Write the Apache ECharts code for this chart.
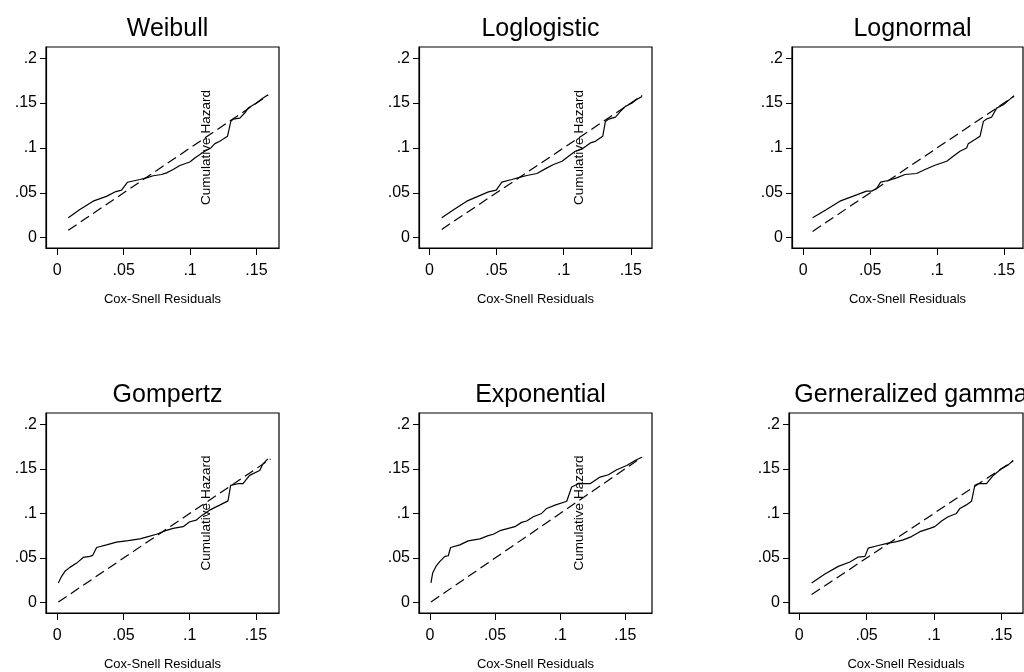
<!DOCTYPE html>
<html>
<head>
<meta charset="utf-8">
<script src="https://cdn.jsdelivr.net/npm/echarts@6/dist/echarts.min.js"></script>
<style>
  html, body { margin: 0; padding: 0; background: #fff; }
  #chart { width: 1024px; height: 672px; }
</style>
</head>
<body>
<div id="chart"></div>
<script>
// Cox-Snell residual diagnostics: Nelson-Aalen cumulative hazard of the
// residuals (solid) against the 45-degree reference line (dashed).

const panelTitles = ['Weibull', 'Loglogistic', 'Lognormal', 'Gompertz', 'Exponential', 'Gerneralized gamma'];
const xAxisTitle = 'Cox-Snell Residuals';
const yAxisTitle = 'Cumulative Hazard';
const xTickValues = [0, 0.05, 0.1, 0.15];
const xTickLabels = ['0', '.05', '.1', '.15'];
const yTickValues = [0, 0.05, 0.1, 0.15, 0.2];
const yTickLabels = ['0', '.05', '.1', '.15', '.2'];

// Weibull
const weibullResid  = [0.0083, 0.017, 0.027, 0.037, 0.0434, 0.0484, 0.0529, 0.0622, 0.0672, 0.0723, 0.0785, 0.0823, 0.0873, 0.0923, 0.0998, 0.1036, 0.1074, 0.111, 0.1157, 0.1187, 0.1224, 0.1282, 0.1307, 0.1325, 0.1375, 0.1412, 0.1438, 0.15, 0.155, 0.1588];
const weibullHazard = [0.0222, 0.0315, 0.0407, 0.046, 0.051, 0.053, 0.0618, 0.0648, 0.0667, 0.069, 0.0704, 0.0722, 0.0759, 0.0804, 0.0844, 0.0889, 0.0926, 0.0963, 0.1, 0.1048, 0.1074, 0.113, 0.1296, 0.1322, 0.1333, 0.1389, 0.1444, 0.15, 0.1556, 0.1593];
const weibullFit    = [0.0083, 0.1588];

// Loglogistic
const loglogResid  = [0.0092, 0.0192, 0.0279, 0.0366, 0.044, 0.0498, 0.054, 0.0614, 0.0677, 0.0726, 0.0801, 0.0876, 0.0925, 0.0988, 0.1037, 0.1087, 0.1137, 0.1199, 0.1236, 0.1291, 0.1311, 0.1336, 0.1386, 0.1423, 0.146, 0.151, 0.1547, 0.1585];
const loglogHazard = [0.0222, 0.0322, 0.0407, 0.0463, 0.0511, 0.053, 0.0619, 0.0648, 0.0674, 0.0693, 0.0715, 0.0778, 0.0815, 0.0852, 0.0907, 0.0963, 0.0989, 0.1056, 0.1074, 0.113, 0.1296, 0.1322, 0.1344, 0.1407, 0.1463, 0.15, 0.1544, 0.1574];
const loglogFit    = [0.0092, 0.1585];

// Lognormal
const lognormResid  = [0.007, 0.0174, 0.0274, 0.0374, 0.0473, 0.0511, 0.0548, 0.0578, 0.0635, 0.0698, 0.076, 0.0847, 0.091, 0.0984, 0.1072, 0.1121, 0.1171, 0.1221, 0.1233, 0.1283, 0.1321, 0.1346, 0.137, 0.1408, 0.1445, 0.1495, 0.1545, 0.1575];
const lognormHazard = [0.0222, 0.0315, 0.0407, 0.0463, 0.0519, 0.0519, 0.0548, 0.0619, 0.0637, 0.0667, 0.0704, 0.0715, 0.0759, 0.0807, 0.0852, 0.0907, 0.0963, 0.1, 0.1048, 0.1093, 0.113, 0.1296, 0.1322, 0.1344, 0.1444, 0.1481, 0.1544, 0.1581];
const lognormFit    = [0.007, 0.1575];

// Gompertz
const gompertzResid  = [0.0008, 0.0033, 0.0058, 0.0095, 0.0146, 0.0196, 0.0246, 0.0267, 0.0297, 0.0372, 0.0447, 0.0535, 0.0623, 0.0686, 0.0749, 0.0812, 0.0874, 0.095, 0.1, 0.105, 0.1095, 0.115, 0.1226, 0.1289, 0.1309, 0.1364, 0.1402, 0.1452, 0.1528, 0.1553, 0.159];
const gompertzHazard = [0.0222, 0.0296, 0.0352, 0.0396, 0.0444, 0.0507, 0.0519, 0.053, 0.0619, 0.0648, 0.0678, 0.0696, 0.0715, 0.0741, 0.0767, 0.0804, 0.0833, 0.0852, 0.0907, 0.0926, 0.0981, 0.1037, 0.1093, 0.1141, 0.1315, 0.1333, 0.1333, 0.1426, 0.1481, 0.1556, 0.1611];
const gompertzFit    = [0.0008, 0.161];

// Exponential
const expResid  = [0.0008, 0.0021, 0.0046, 0.0077, 0.0115, 0.0141, 0.0159, 0.023, 0.0294, 0.0384, 0.0448, 0.0487, 0.0538, 0.0602, 0.0653, 0.0704, 0.0743, 0.0794, 0.0858, 0.0897, 0.0961, 0.1051, 0.1089, 0.114, 0.123, 0.1307, 0.1371, 0.1435, 0.1512, 0.1576, 0.1627];
const expHazard = [0.0222, 0.0333, 0.0407, 0.0463, 0.0519, 0.0526, 0.0619, 0.0648, 0.0693, 0.0715, 0.0752, 0.0767, 0.0807, 0.0833, 0.0852, 0.09, 0.0915, 0.0963, 0.1, 0.1056, 0.1093, 0.1137, 0.1296, 0.1333, 0.1333, 0.1407, 0.1433, 0.1489, 0.1537, 0.1593, 0.163];
const expFit    = [0.0008, 0.163];

// Generalized gamma
const ggammaResid  = [0.0092, 0.0191, 0.029, 0.0376, 0.0438, 0.0488, 0.0512, 0.0587, 0.0661, 0.0723, 0.0772, 0.0834, 0.0896, 0.097, 0.1007, 0.1057, 0.1106, 0.1168, 0.1193, 0.1238, 0.128, 0.1304, 0.1329, 0.1391, 0.1441, 0.1502, 0.1552, 0.1589];
const ggammaHazard = [0.0222, 0.0322, 0.0407, 0.0456, 0.0511, 0.0519, 0.0611, 0.0641, 0.0667, 0.0685, 0.0704, 0.0741, 0.0796, 0.0833, 0.0852, 0.0915, 0.0963, 0.1, 0.1056, 0.1093, 0.1137, 0.1315, 0.1333, 0.1333, 0.1426, 0.15, 0.1544, 0.1593];
const ggammaFit    = [0.0092, 0.1589];

const panelData = [
  { resid: weibullResid,  hazard: weibullHazard,  fit: weibullFit },
  { resid: loglogResid,   hazard: loglogHazard,   fit: loglogFit },
  { resid: lognormResid,  hazard: lognormHazard,  fit: lognormFit },
  { resid: gompertzResid, hazard: gompertzHazard, fit: gompertzFit },
  { resid: expResid,      hazard: expHazard,      fit: expFit },
  { resid: ggammaResid,   hazard: ggammaHazard,   fit: ggammaFit }
];

// Plot-region geometry and axis extents for each panel
const layout = [
  { left: 46,  top: 47,  width: 233, height: 201, xMin: -0.0085, xMax: 0.1670, yName: true },
  { left: 419, top: 47,  width: 233, height: 201, xMin: -0.0077, xMax: 0.1658, yName: true },
  { left: 792, top: 47,  width: 231, height: 201, xMin: -0.0084, xMax: 0.1642, yName: false },
  { left: 46,  top: 413, width: 233, height: 203, xMin: -0.0085, xMax: 0.1674, yName: true },
  { left: 419, top: 413, width: 233, height: 203, xMin: -0.0084, xMax: 0.1706, yName: true },
  { left: 789, top: 413, width: 234, height: 203, xMin: -0.0076, xMax: 0.1662, yName: false }
];
const yMin = -0.0115, yMax = 0.2125;

const FONT = '"Liberation Sans", Arial, Helvetica, sans-serif';
const BLACK = '#000';

const grids = [], xAxes = [], yAxes = [], series = [], titles = [];

layout.forEach((p, i) => {
  grids.push({
    left: p.left, top: p.top, width: p.width, height: p.height,
    show: true, borderColor: BLACK, borderWidth: 1.2, backgroundColor: '#fff',
    containLabel: false
  });
  titles.push({
    text: panelTitles[i],
    left: p.left + p.width / 2,
    top: p.top - 35,
    textAlign: 'center',
    textStyle: { fontFamily: FONT, fontSize: 25, fontWeight: 'normal', color: BLACK }
  });
  xAxes.push({
    type: 'value', gridIndex: i, min: p.xMin, max: p.xMax,
    name: xAxisTitle, nameLocation: 'middle', nameGap: 45,
    nameTextStyle: { fontFamily: FONT, fontSize: 13, color: BLACK },
    axisLine: { show: true, onZero: false, lineStyle: { color: BLACK, width: 1.2 } },
    axisTick: { show: true, inside: false, length: 7, customValues: xTickValues, lineStyle: { color: BLACK, width: 1 } },
    axisLabel: {
      show: true, margin: 15, customValues: xTickValues, showMinLabel: true, showMaxLabel: true,
      fontFamily: FONT, fontSize: 16, color: BLACK,
      formatter: v => xTickLabels[xTickValues.findIndex(t => Math.abs(t - v) < 1e-9)] ?? ''
    },
    splitLine: { show: false }
  });
  yAxes.push({
    type: 'value', gridIndex: i, min: yMin, max: yMax,
    name: p.yName ? yAxisTitle : '', nameLocation: 'middle', nameGap: -167, nameRotate: 90,
    nameTextStyle: { fontFamily: FONT, fontSize: 13.5, color: BLACK },
    axisLine: { show: true, onZero: false, lineStyle: { color: BLACK, width: 1.2 } },
    axisTick: { show: true, inside: false, length: 6, customValues: yTickValues, lineStyle: { color: BLACK, width: 1 } },
    axisLabel: {
      show: true, margin: 9, customValues: yTickValues, showMinLabel: true, showMaxLabel: true,
      fontFamily: FONT, fontSize: 16, color: BLACK,
      formatter: v => yTickLabels[yTickValues.findIndex(t => Math.abs(t - v) < 1e-9)] ?? ''
    },
    splitLine: { show: false }
  });
  const d = panelData[i];
  series.push({
    type: 'line', xAxisIndex: i, yAxisIndex: i,
    data: d.resid.map((x, j) => [x, d.hazard[j]]),
    showSymbol: false, symbol: 'none', z: 3,
    lineStyle: { color: BLACK, width: 1.2 }
  });
  series.push({
    type: 'line', xAxisIndex: i, yAxisIndex: i,
    data: d.fit.map(v => [v, v]),
    showSymbol: false, symbol: 'none', z: 2,
    lineStyle: { color: BLACK, width: 1.2, type: [10, 5] }
  });
});

const chart = echarts.init(document.getElementById('chart'), null, { renderer: 'canvas' });
chart.setOption({
  backgroundColor: '#fff',
  animation: false,
  title: titles,
  grid: grids,
  xAxis: xAxes,
  yAxis: yAxes,
  series: series
});
</script>
</body>
</html>
